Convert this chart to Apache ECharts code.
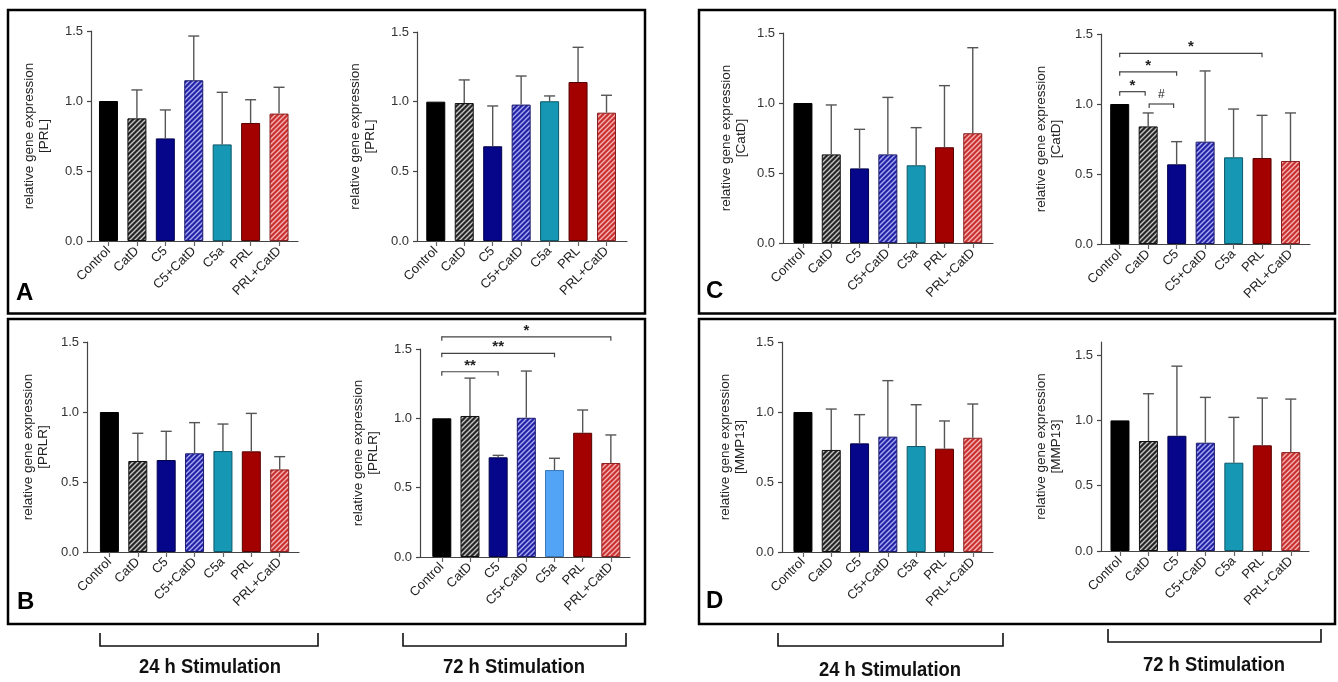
<!DOCTYPE html>
<html><head><meta charset="utf-8">
<script src="https://cdn.jsdelivr.net/npm/echarts@6/dist/echarts.min.js"></script>
<style>html,body{margin:0;padding:0;background:#fff}#c{width:1338px;height:682px}</style>
</head><body><div id="c"></div>
<script>
// ---------------- DATA ----------------
const categories = ['Control', 'CatD', 'C5', 'C5+CatD', 'C5a', 'PRL', 'PRL+CatD'];
const yTickValues = [0, 0.5, 1.0, 1.5];
// A: PRL
const prl24Mean = [1.00, 0.876, 0.733, 1.148, 0.690, 0.843, 0.910];
const prl24Err  = [null, 1.079, 0.936, 1.464, 1.062, 1.009, 1.098];
const prl72Mean = [1.00, 0.990, 0.680, 0.979, 1.003, 1.141, 0.921];
const prl72Err  = [null, 1.156, 0.969, 1.184, 1.041, 1.390, 1.046];
// B: PRLR
const prlr24Mean = [1.00, 0.650, 0.657, 0.705, 0.721, 0.719, 0.590];
const prlr24Err  = [null, 0.848, 0.862, 0.924, 0.914, 0.990, 0.681];
const prlr72Mean = [1.00, 1.017, 0.719, 1.004, 0.627, 0.896, 0.678];
const prlr72Err  = [null, 1.290, 0.733, 1.341, 0.712, 1.060, 0.880];
// C: CatD
const catd24Mean = [1.00, 0.633, 0.533, 0.633, 0.555, 0.684, 0.784];
const catd24Err  = [null, 0.986, 0.812, 1.040, 0.824, 1.124, 1.395];
const catd72Mean = [1.00, 0.840, 0.569, 0.731, 0.619, 0.614, 0.593];
const catd72Err  = [null, 0.936, 0.731, 1.236, 0.964, 0.919, 0.936];
// D: MMP13
const mmp24Mean = [1.00, 0.729, 0.776, 0.824, 0.757, 0.738, 0.816];
const mmp24Err  = [null, 1.021, 0.981, 1.224, 1.052, 0.936, 1.057];
const mmp72Mean = [1.00, 0.842, 0.882, 0.829, 0.676, 0.809, 0.757];
const mmp72Err  = [null, 1.204, 1.415, 1.176, 1.023, 1.171, 1.163];
// significance brackets: [fromIndex, toIndex, height]
const prlr72Sig = [[0, 2, 1.336], [0, 4, 1.469], [0, 6, 1.588]];
const prlr72SigText = ['**', '**', '*'];
const catd72Sig = [[0, 1, 1.088], [1, 2, 1.0], [0, 2, 1.23], [0, 5, 1.362]];
const catd72SigText = ['*', '#', '*', '*'];
const yNames = ['relative gene expression\n[PRL]', 'relative gene expression\n[PRLR]',
                'relative gene expression\n[CatD]', 'relative gene expression\n[MMP13]'];
const stimLabels = ['24 h Stimulation', '72 h Stimulation', '24 h Stimulation', '72 h Stimulation'];
const panelLetters = ['A', 'B', 'C', 'D'];

// ---------------- STYLE ----------------
const FONT = 'Liberation Sans, Arial, Helvetica, sans-serif';
function hatch(base, stripe) {
  const s = 5, cv = document.createElement('canvas');
  cv.width = s; cv.height = s;
  const g = cv.getContext('2d');
  g.fillStyle = base; g.fillRect(0, 0, s, s);
  g.strokeStyle = stripe; g.lineWidth = 1.4;
  g.beginPath();
  g.moveTo(-1, s + 1); g.lineTo(s + 1, -1);
  g.moveTo(-1, 1); g.lineTo(1, -1);
  g.moveTo(s - 1, s + 1); g.lineTo(s + 1, s - 1);
  g.stroke();
  return { image: cv, repeat: 'repeat' };
}
const barFill = [
  { color: '#000000', border: '#000000' },
  { color: hatch('#262626', '#c4c4c4'), border: '#111111' },
  { color: '#06068a', border: '#03034a' },
  { color: hatch('#2323a6', '#a9a9f2'), border: '#1a1a6a' },
  { color: '#1697b4', border: '#0d5868' },
  { color: '#a30000', border: '#560000' },
  { color: hatch('#c93030', '#f6b3b3'), border: '#872020' }
];
const lightBlue = { color: '#52a5f6', border: '#3a78b8' };

// layout per panel (grid geometry and axis ranges)
const panels = [
  { mean: prl24Mean,  err: prl24Err,  name: 0, g: [91, 31, 207, 210],  xr: [-0.615, 6.667], ymax: 1.5, gap: 39 },
  { mean: prl72Mean,  err: prl72Err,  name: 0, g: [417, 32, 210, 209], xr: [-0.66, 6.72],   ymax: 1.5, gap: 39 },
  { mean: catd24Mean, err: catd24Err, name: 2, g: [783, 33, 210, 210], xr: [-0.705, 6.715], ymax: 1.5, gap: 34 },
  { mean: catd72Mean, err: catd72Err, name: 2, g: [1101, 34, 209, 210],xr: [-0.657, 6.685], ymax: 1.5, gap: 37, sig: catd72Sig, sigText: catd72SigText },
  { mean: prlr24Mean, err: prlr24Err, name: 1, g: [87, 342, 212, 210], xr: [-0.79, 6.68],   ymax: 1.5, gap: 36 },
  { mean: prlr72Mean, err: prlr72Err, name: 1, g: [420, 349, 210, 208],xr: [-0.774, 6.68],  ymax: 1.5, gap: 39, sig: prlr72Sig, sigText: prlr72SigText, c5aLight: true },
  { mean: mmp24Mean,  err: mmp24Err,  name: 3, g: [782, 342, 211, 210],xr: [-0.74, 6.715],  ymax: 1.5, gap: 34 },
  { mean: mmp72Mean,  err: mmp72Err,  name: 3, g: [1101, 342, 208, 209],xr: [-0.667, 6.64], ymax: 1.6, gap: 37 }
];

const grid = [], xAxis = [], yAxis = [], series = [];
const axisCol = '#444';
panels.forEach((p, k) => {
  grid.push({ left: p.g[0], top: p.g[1], width: p.g[2], height: p.g[3], outerBoundsMode: 'none', containLabel: false });
  xAxis.push({
    type: 'value', gridIndex: k, min: p.xr[0], max: p.xr[1],
    splitLine: { show: false },
    axisLine: { show: true, onZero: false, lineStyle: { color: axisCol, width: 1.2 } },
    axisTick: { show: true, length: 5, customValues: categories.map((c, i) => i), lineStyle: { color: '#666', width: 1.2 } },
    axisLabel: {
      customValues: categories.map((c, i) => i), rotate: 45, margin: 8,
      formatter: v => categories[Math.round(v)] || '', color: '#222', fontSize: 13, fontFamily: FONT
    }
  });
  yAxis.push({
    type: 'value', gridIndex: k, min: 0, max: p.ymax,
    name: yNames[p.name], nameLocation: 'middle', nameGap: p.gap,
    nameTextStyle: { color: '#222', fontSize: 13.5, lineHeight: 15, fontFamily: FONT },
    splitLine: { show: false },
    axisLine: { show: true, onZero: false, lineStyle: { color: axisCol, width: 1.2 } },
    axisTick: { show: true, length: 4, customValues: yTickValues, lineStyle: { color: axisCol, width: 1.2 } },
    axisLabel: { customValues: yTickValues, formatter: v => Number(v).toFixed(1), color: '#333', fontSize: 13, margin: 8, fontFamily: FONT }
  });
  series.push({
    type: 'bar', xAxisIndex: k, yAxisIndex: k, barWidth: 19,
    data: p.mean.map((v, i) => {
      const st = (p.c5aLight && i === 4) ? lightBlue : barFill[i];
      return { value: [i, v], itemStyle: { color: st.color, borderColor: st.border, borderWidth: 1 } };
    }),
    silent: true, animation: false
  });
  series.push({
    type: 'custom', xAxisIndex: k, yAxisIndex: k, z: 5, animation: false, silent: true,
    encode: { x: 0, y: [1, 2] },
    data: p.mean.map((v, i) => [i, v, p.err[i]]).filter(d => d[2] != null),
    renderItem: (params, api) => {
      const p1 = api.coord([api.value(0), api.value(1)]);
      const p2 = api.coord([api.value(0), api.value(2)]);
      const st = { stroke: '#555', lineWidth: 1.4 };
      return { type: 'group', children: [
        { type: 'line', shape: { x1: p1[0], y1: p1[1], x2: p2[0], y2: p2[1] }, style: st },
        { type: 'line', shape: { x1: p2[0] - 5.5, y1: p2[1], x2: p2[0] + 5.5, y2: p2[1] }, style: st }
      ] };
    }
  });
  if (p.sig) {
    series.push({
      type: 'custom', xAxisIndex: k, yAxisIndex: k, z: 6, clip: false, animation: false, silent: true,
      encode: { x: [0, 1], y: 2 },
      data: p.sig,
      renderItem: (params, api) => {
        const a = api.coord([api.value(0), api.value(2)]);
        const b = api.coord([api.value(1), api.value(2)]);
        const adj = api.value(1) - api.value(0) === 1;
        const x1 = a[0] + (adj && api.value(0) > 0 ? 1 : 0), x2 = b[0] - (adj ? 3 : 0), y = a[1];
        const st = { stroke: '#444', lineWidth: 1.2 };
        const txt = p.sigText[params.dataIndex];
        return { type: 'group', children: [
          { type: 'line', shape: { x1: x1, y1: y, x2: x2, y2: y }, style: st },
          { type: 'line', shape: { x1: x1, y1: y - 0.5, x2: x1, y2: y + 4 }, style: st },
          { type: 'line', shape: { x1: x2, y1: y - 0.5, x2: x2, y2: y + 4 }, style: st },
          { type: 'text', x: (x1 + x2) / 2, y: txt === '#' ? y - 9 : y - 6,
            style: { text: txt, fill: '#222', font: (txt === '#' ? '12px ' : 'bold 15px ') + FONT, align: 'center', verticalAlign: 'middle' } }
        ] };
      }
    });
  }
});

// frames, letters, bottom brackets
const graphic = [];
const boxes = [[8, 10, 637, 303.5], [8, 319, 637, 305], [699, 10, 636, 303.5], [699, 319, 636, 305]];
boxes.forEach(b => graphic.push({ type: 'rect', shape: { x: b[0], y: b[1], width: b[2], height: b[3] }, style: { fill: 'none', stroke: '#000', lineWidth: 2.5 }, silent: true }));
const letterPos = [[16, 281], [17, 590], [706, 279], [706, 589]];
panelLetters.forEach((t, i) => graphic.push({ type: 'text', x: letterPos[i][0], y: letterPos[i][1], style: { text: t, font: 'bold 24px ' + FONT, fill: '#000' }, silent: true }));
const brackets = [[100, 318, 633, 646], [403, 626, 633, 646], [778, 1003, 633, 646], [1108, 1321, 629, 642]];
brackets.forEach(b => graphic.push({ type: 'polyline', shape: { points: [[b[0], b[2]], [b[0], b[3]], [b[1], b[3]], [b[1], b[2]]] }, style: { stroke: '#111', lineWidth: 1.6, fill: 'none' }, silent: true }));
const stimPos = [[210, 667], [514, 667], [890, 670], [1214, 665]];
stimLabels.forEach((t, i) => graphic.push({ type: 'text', x: stimPos[i][0], y: stimPos[i][1], scaleX: 0.92, style: { text: t, font: 'bold 20px ' + FONT, fill: '#111', align: 'center', verticalAlign: 'middle' }, silent: true }));

const chart = echarts.init(document.getElementById('c'), null, { renderer: 'canvas' });
chart.setOption({ animation: false, backgroundColor: '#fff', grid, xAxis, yAxis, series, graphic });
</script></body></html>
